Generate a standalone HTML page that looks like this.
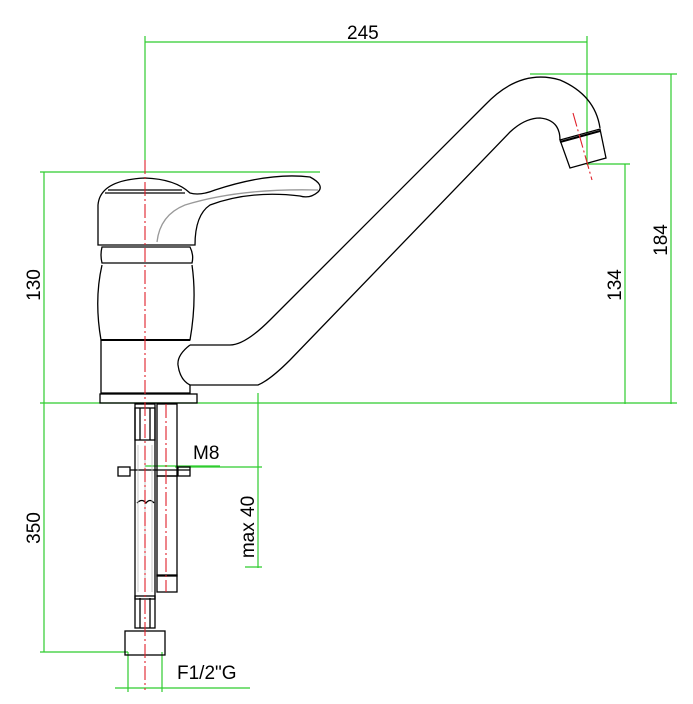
<!DOCTYPE html>
<html><head><style>body{margin:0;background:#fff}svg{display:block}text{font-family:"Liberation Sans",sans-serif;font-size:19px;fill:#000}</style></head><body>
<svg width="693" height="704" viewBox="0 0 693 704">
<g stroke="#2ecc2e" stroke-width="1.2" fill="none">
<line x1="145" y1="42" x2="587" y2="42"/>
<line x1="145" y1="36" x2="145" y2="160"/>
<line x1="587" y1="36" x2="587" y2="165"/>
<line x1="530" y1="74" x2="677" y2="74"/>
<line x1="671" y1="74" x2="671" y2="404"/>
<line x1="588" y1="164" x2="630" y2="164"/>
<line x1="625" y1="164" x2="625" y2="404"/>
<line x1="40" y1="403" x2="677" y2="403"/>
<line x1="40" y1="172" x2="320" y2="172"/>
<line x1="44" y1="172" x2="44" y2="652"/>
<line x1="40" y1="652" x2="128" y2="652"/>
<line x1="145" y1="466" x2="220" y2="466"/>
<line x1="175" y1="467" x2="262" y2="467"/>
<line x1="258" y1="393" x2="258" y2="568"/>
<line x1="245" y1="567" x2="262" y2="567"/>
<line x1="128" y1="652" x2="128" y2="692"/>
<line x1="162" y1="652" x2="162" y2="692"/>
<line x1="115" y1="688" x2="250" y2="688"/>
</g>
<g stroke="#000" stroke-width="1.3" fill="none">
<!-- cap -->
<path d="M98,245 L98,205 Q100,180 145,178 Q175,179 190,193 Q200,196 215,190 Q270,172 310,177 Q325,185 318,192 Q310,199 300,196 Q250,190 210,205 Q195,215 195,245 Z"/>
<line x1="108" y1="190" x2="182" y2="190"/>
<line x1="105" y1="193" x2="185" y2="193"/>
<path d="M157,242 Q160,215 185,205 Q240,188 318,190" stroke="#999"/>
<!-- body -->
<path d="M102,247 L190,247 Q194,255 192,263 L102,263 Q100,255 102,247 Z"/>
<path d="M102,265 Q94,300 101,340 L190,340 Q197,300 192,265"/>
<line x1="101" y1="340" x2="190" y2="340" stroke-width="2"/>
<path d="M101,340 L101,393 L190,393 L190,385"/>
<rect x="100" y="394" width="97" height="9"/>
<!-- spout -->
<path d="M190,345 Q195,345 230,345 Q245,345 270,320 L485,105 Q520,68 560,80 Q595,95 600,128"/>
<path d="M190,385 L258,385 Q270,380 290,360 L510,132 Q525,118 540,118 Q560,120 560,140"/>
<path d="M190,345 Q177,355 178,365 Q180,380 190,385"/>
<path d="M560,140 L600,129 L606,158 L570,168 Z"/>
<line x1="560" y1="142" x2="600" y2="131" stroke-width="2.2"/>
<!-- lower hose -->
<rect x="135" y="404" width="20" height="195"/>
<rect x="135" y="408" width="20" height="32"/>
<line x1="140" y1="408" x2="140" y2="440"/><line x1="150" y1="408" x2="150" y2="440"/>
<rect x="135" y="596" width="20" height="32"/>
<line x1="140" y1="598" x2="140" y2="628"/><line x1="150" y1="598" x2="150" y2="628"/>
<rect x="125" y="631" width="40" height="24"/>
<path d="M137,503 Q142,498 146,503 Q150,498 154,503"/>
<rect x="118" y="467" width="12" height="9"/>
<rect x="178" y="467" width="12" height="9"/>
<line x1="130" y1="470" x2="190" y2="470"/>
<rect x="157" y="404" width="20" height="72"/>
<rect x="157" y="476" width="20" height="100"/>
<rect x="157" y="575" width="20" height="17"/>
</g>
<g stroke="#bbb" stroke-width="0.8">
<line x1="138" y1="445" x2="138" y2="592"/><line x1="145" y1="445" x2="145" y2="592"/><line x1="152" y1="445" x2="152" y2="592"/>
</g>
<g stroke="#e0202a" stroke-width="1.1" fill="none" stroke-dasharray="14,3,2,3">
<line x1="145" y1="160" x2="145" y2="690"/>
<line x1="166" y1="404" x2="166" y2="592"/>
<line x1="573" y1="113" x2="592" y2="180"/>
</g>
<text x="347" y="39">245</text>
<text transform="translate(667,240) rotate(-90)" text-anchor="middle">184</text>
<text transform="translate(621,285) rotate(-90)" text-anchor="middle">134</text>
<text transform="translate(40,285) rotate(-90)" text-anchor="middle">130</text>
<text transform="translate(40,528) rotate(-90)" text-anchor="middle">350</text>
<text transform="translate(254,527) rotate(-90)" text-anchor="middle">max  40</text>
<text x="193" y="459">M8</text>
<text x="177" y="679">F1/2"G</text>
</svg>
</body></html>
